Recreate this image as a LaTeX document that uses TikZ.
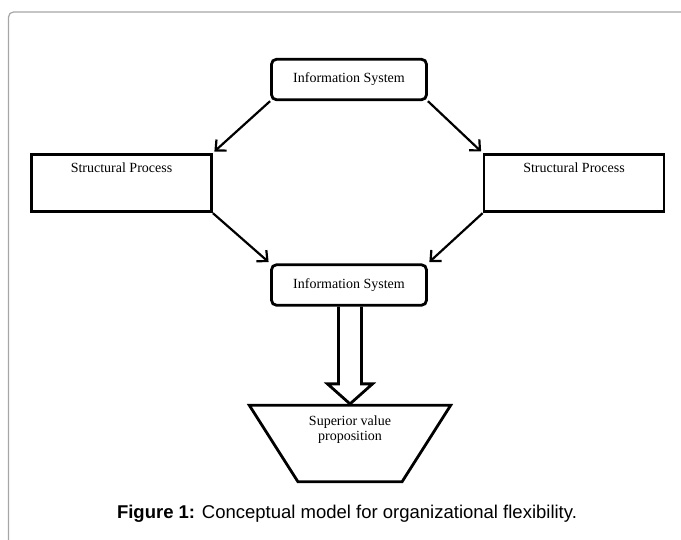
\documentclass[tikz,border=0pt]{standalone}
\usepackage{fontspec}
\setmainfont{Liberation Serif}
\newfontfamily\capfont{Liberation Sans}
\usetikzlibrary{calc}
\usetikzlibrary{arrows.meta}
\usetikzlibrary{shapes.geometric}
\newcommand{\boxfont}{\fontsize{14}{15.5}\selectfont}

\begin{document}
\begin{tikzpicture}[x=1pt,y=-1pt,
    isbox/.style={draw,rounded corners=5pt,line width=2.8pt,minimum width=155pt,minimum height=40.5pt,font=\boxfont},
    spbox/.style={draw,line width=2.8pt,minimum width=180pt,minimum height=57.5pt,text depth=30pt,font=\boxfont},
    link/.style={line width=2.2pt,-{Straight Barb[length=8pt,width=15pt]},shorten >=2pt}]
    \useasboundingbox (0,0) rectangle (681,539);
    % frame of the figure
    \draw[gray!70,line width=1.2pt,rounded corners=5pt] (8.5,545) |- (690,12);
    \node[isbox] (ist) at (349,79.5) {Information System};
    \node[spbox] (spl) at (121.5,183) {Structural Process};
    \node[spbox] (spr) at (574,183) {Structural Process};
    \node[isbox] (isb) at (349,285) {Information System};
    \node[trapezium,shape border rotate=180,trapezium angle=65,trapezium stretches=true,
          minimum width=201.4pt,minimum height=76.4pt,draw,line width=2.8pt] (svp) at (350,443.5) {};
    \node[font=\boxfont,align=center] (svptext) at ($(svp.center)+(0,-14)$) {Superior value\\proposition};
    \path[link] (ist.south west) edge (spl.north east);
    \path[link] (ist.south east) edge (spr.north west);
    \path[link] (spl.south east) edge (isb.north west);
    \path[link] (spr.south west) edge (isb.north east);
    % hollow block arrow
    \draw[line width=2.8pt,line join=miter] ($(svp.north |- isb.south)+(-11.5,0)$) -- ($(svp.north)+(-11.5,-20)$)
      -- ++(-11,0) -- (svp.north) -- ++(22.5,-20) -- ++(-11,0) -- ($(svp.north |- isb.south)+(11.5,0)$);
    \node[font=\capfont\fontsize{18.5}{22}\selectfont] (cap) at (347,514)
      {\textbf{Figure 1:} Conceptual model for organizational flexibility.};
\end{tikzpicture}
\end{document}
